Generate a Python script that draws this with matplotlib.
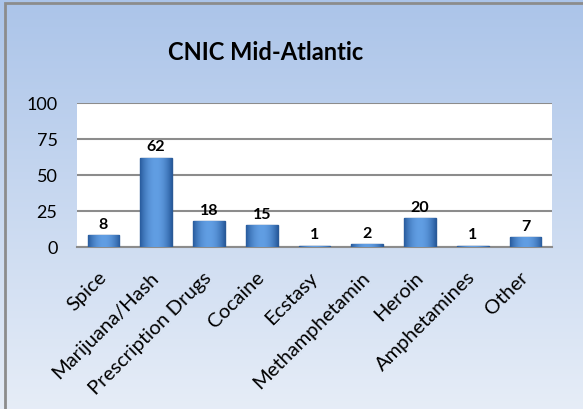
import numpy as np
import matplotlib.pyplot as plt
import matplotlib.transforms as mtransforms
from matplotlib.patches import Rectangle

categories = ['Spice', 'Marijuana/Hash', 'Prescription Drugs', 'Cocaine', 'Ecstasy',
              'Methamphetamin', 'Heroin', 'Amphetamines', 'Other']
counts = [8, 62, 18, 15, 1, 2, 20, 1, 7]
yticks = [0, 25, 50, 75, 100]

plt.rcParams['font.family'] = ['Lato', 'DejaVu Sans']

W, H = 583, 410
fig = plt.figure(figsize=(W / 100, H / 100), dpi=100)

# gradient background of the chart area
bg = fig.add_axes([0, 0, 1, 1])
grad = np.linspace(0, 1, 256)[:, None]
top = np.array([0.671, 0.769, 0.914])
bot = np.array([0.902, 0.929, 0.969])
img = top[None, None, :] * (1 - grad[:, :, None]) + bot[None, None, :] * grad[:, :, None]
bg.imshow(img, aspect='auto', extent=[0, 1, 0, 1])
bg.set_xlim(0, 1)
bg.set_ylim(0, 1)
bg.axis('off')
bg.add_patch(Rectangle((5 / W, -0.1), 1.2, 1 - 4 / H + 0.1, fill=False,
                       edgecolor='#8c8c8c', linewidth=2, transform=bg.transAxes))

fig.text(266 / W, 1 - 53 / H, 'CNIC Mid-Atlantic', ha='center', va='center',
         fontsize=17, fontweight='bold', color='black')

ax = fig.add_axes([77 / W, 1 - 248 / H, (552 - 77) / W, (248 - 104) / H])
ax.set_facecolor('white')
x = np.arange(len(categories))
bars = ax.bar(x, counts, width=0.6, color='#3c7dc9', edgecolor='#2a5996', linewidth=1, zorder=3)

# shaded look on each bar: dark edges, lighter middle
t = np.linspace(-1, 1, 64)
shade = 1 - np.abs(t) ** 2
dark = np.array([0.16, 0.36, 0.62])
light = np.array([0.38, 0.62, 0.89])
strip = dark[None, :] * (1 - shade[:, None]) + light[None, :] * shade[:, None]
strip = np.tile(strip[None, :, :], (2, 1, 1))
for b in bars:
    bx, bw, bh = b.get_x(), b.get_width(), b.get_height()
    im = ax.imshow(strip, extent=[bx, bx + bw, 0, bh], aspect='auto', zorder=3.5,
                   interpolation='bilinear')
    im.set_clip_path(b)
ax.set_aspect('auto')

for xi, v in zip(x, counts):
    ax.text(xi, v + 3, str(v), ha='center', va='bottom', fontsize=11.5,
            fontweight='bold', zorder=4)

ax.set_xlim(-0.5, len(categories) - 0.5)
ax.set_ylim(0, 100)
ax.set_yticks(yticks)
ax.set_yticklabels([str(t) for t in yticks], fontsize=13)
ax.yaxis.grid(True, color='#8c8c8c', linewidth=1.5, zorder=0)
ax.set_axisbelow(True)
ax.tick_params(axis='y', length=0, pad=14)
ax.set_xticks(x)
ax.set_xticklabels(categories, rotation=45, ha='right', rotation_mode='anchor', fontsize=14.5)
ax.tick_params(axis='x', length=0, pad=15)
shift = mtransforms.ScaledTranslation(-6 / 100, 0, fig.dpi_scale_trans)
for lbl in ax.get_xticklabels():
    lbl.set_transform(lbl.get_transform() + shift)
for s in ['left', 'right', 'top']:
    ax.spines[s].set_visible(False)
ax.spines['bottom'].set_color('#8c8c8c')
ax.spines['bottom'].set_linewidth(1.5)

fig.savefig('out.png', dpi=100)
